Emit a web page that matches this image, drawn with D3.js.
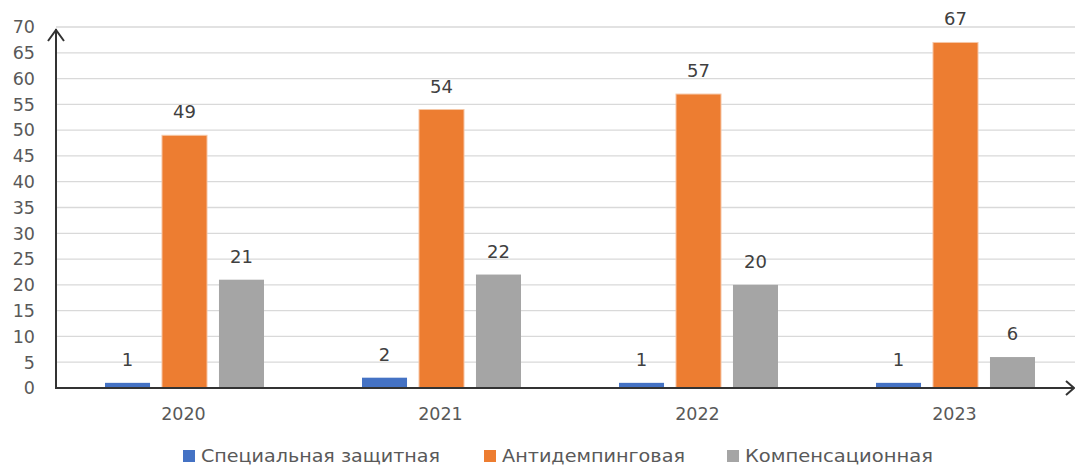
<!DOCTYPE html>
<html>
<head>
<meta charset="utf-8">
<script src="https://cdn.jsdelivr.net/npm/d3@7/dist/d3.min.js"></script>
<style>
  html, body { margin: 0; padding: 0; background: #fff; }
  svg { display: block; font-family: "DejaVu Sans", "Noto Sans", sans-serif; }
</style>
</head>
<body>
<svg id="chart" width="1075" height="466"></svg>
<script>
// Number of measures by type, per year
const years = ["2020", "2021", "2022", "2023"];
const seriesNames = ["Специальная защитная", "Антидемпинговая", "Компенсационная"];
const special = [1, 2, 1, 1];
const antidumping = [49, 54, 57, 67];
const countervailing = [21, 22, 20, 6];
const yTicks = [0, 5, 10, 15, 20, 25, 30, 35, 40, 45, 50, 55, 60, 65, 70];
const colors = ["#4472C4", "#ED7D31", "#A5A5A5"];

const seriesValues = [special, antidumping, countervailing];

const svg = d3.select("#chart");
const left = 56, right = 1075, zeroY = 388, topY = 27;

const x = d3.scaleBand().domain(years).range([left, 1084]).paddingInner(0).paddingOuter(0);
const groupWidth = 159;
const xs = d3.scaleBand().domain(d3.range(3)).range([0, groupWidth]).paddingInner(0.21);
const y = d3.scaleLinear().domain([0, 70]).range([zeroY, topY]);

// horizontal gridlines
svg.append("g").selectAll("line").data(yTicks.filter(d => d > 0)).join("line")
  .attr("x1", left).attr("x2", right)
  .attr("y1", d => y(d)).attr("y2", d => y(d))
  .attr("stroke", "#d9d9d9").attr("stroke-width", 1.3);

// y tick labels
svg.append("g").selectAll("text").data(yTicks).join("text")
  .attr("x", 35).attr("y", d => y(d)).attr("dy", "0.36em")
  .attr("text-anchor", "end")
  .attr("font-size", 17.5).attr("fill", "#595959")
  .text(d => d);

// bars with value labels
const groupOffset = x.bandwidth() / 2 - groupWidth / 2;
const groups = svg.append("g").selectAll("g").data(years).join("g")
  .attr("transform", d => `translate(${x(d) + groupOffset},0)`);

groups.each(function(year, i) {
  const g = d3.select(this);
  seriesValues.forEach((vals, s) => {
    const v = vals[i];
    g.append("rect")
      .attr("x", xs(s)).attr("width", xs.bandwidth())
      .attr("y", y(v)).attr("height", zeroY - y(v))
      .attr("fill", colors[s])
      .attr("stroke", s === 1 ? "#f6c7a6" : "none").attr("stroke-width", 1);
    g.append("text")
      .attr("x", xs(s) + xs.bandwidth() / 2).attr("y", y(v) - 17)
      .attr("text-anchor", "middle")
      .attr("font-size", 18).attr("fill", "#404040")
      .text(v);
  });
});

// x category labels
svg.append("g").selectAll("text").data(years).join("text")
  .attr("x", d => x(d) + x.bandwidth() / 2 - 1).attr("y", 420)
  .attr("text-anchor", "middle")
  .attr("font-size", 17.5).attr("fill", "#595959")
  .text(d => d);

// axes with open arrowheads
const axisColor = "#333";
svg.append("line").attr("x1", left).attr("x2", left).attr("y1", 29).attr("y2", zeroY + 1)
  .attr("stroke", axisColor).attr("stroke-width", 2);
svg.append("path").attr("d", `M${left - 8},${41} L${left},${30} L${left + 8},${41}`)
  .attr("fill", "none").attr("stroke", axisColor).attr("stroke-width", 2);
svg.append("line").attr("x1", left).attr("x2", 1073).attr("y1", zeroY).attr("y2", zeroY)
  .attr("stroke", axisColor).attr("stroke-width", 2);
svg.append("path").attr("d", `M1066,${zeroY - 7} L1074,${zeroY} L1066,${zeroY + 7}`)
  .attr("fill", "none").attr("stroke", axisColor).attr("stroke-width", 2);

// legend
const legendX = [183, 484, 727];
const legendW = [239, 183, 188];
const legend = svg.append("g").selectAll("g").data(seriesNames).join("g")
  .attr("transform", (d, i) => `translate(${legendX[i]},450)`);
legend.append("rect").attr("width", 12).attr("height", 12).attr("fill", (d, i) => colors[i]);
legend.append("text").attr("x", 18).attr("y", 12)
  .attr("font-size", 17).attr("fill", "#595959")
  .attr("textLength", (d, i) => legendW[i]).attr("lengthAdjust", "spacingAndGlyphs")
  .text(d => d);
</script>
</body>
</html>
